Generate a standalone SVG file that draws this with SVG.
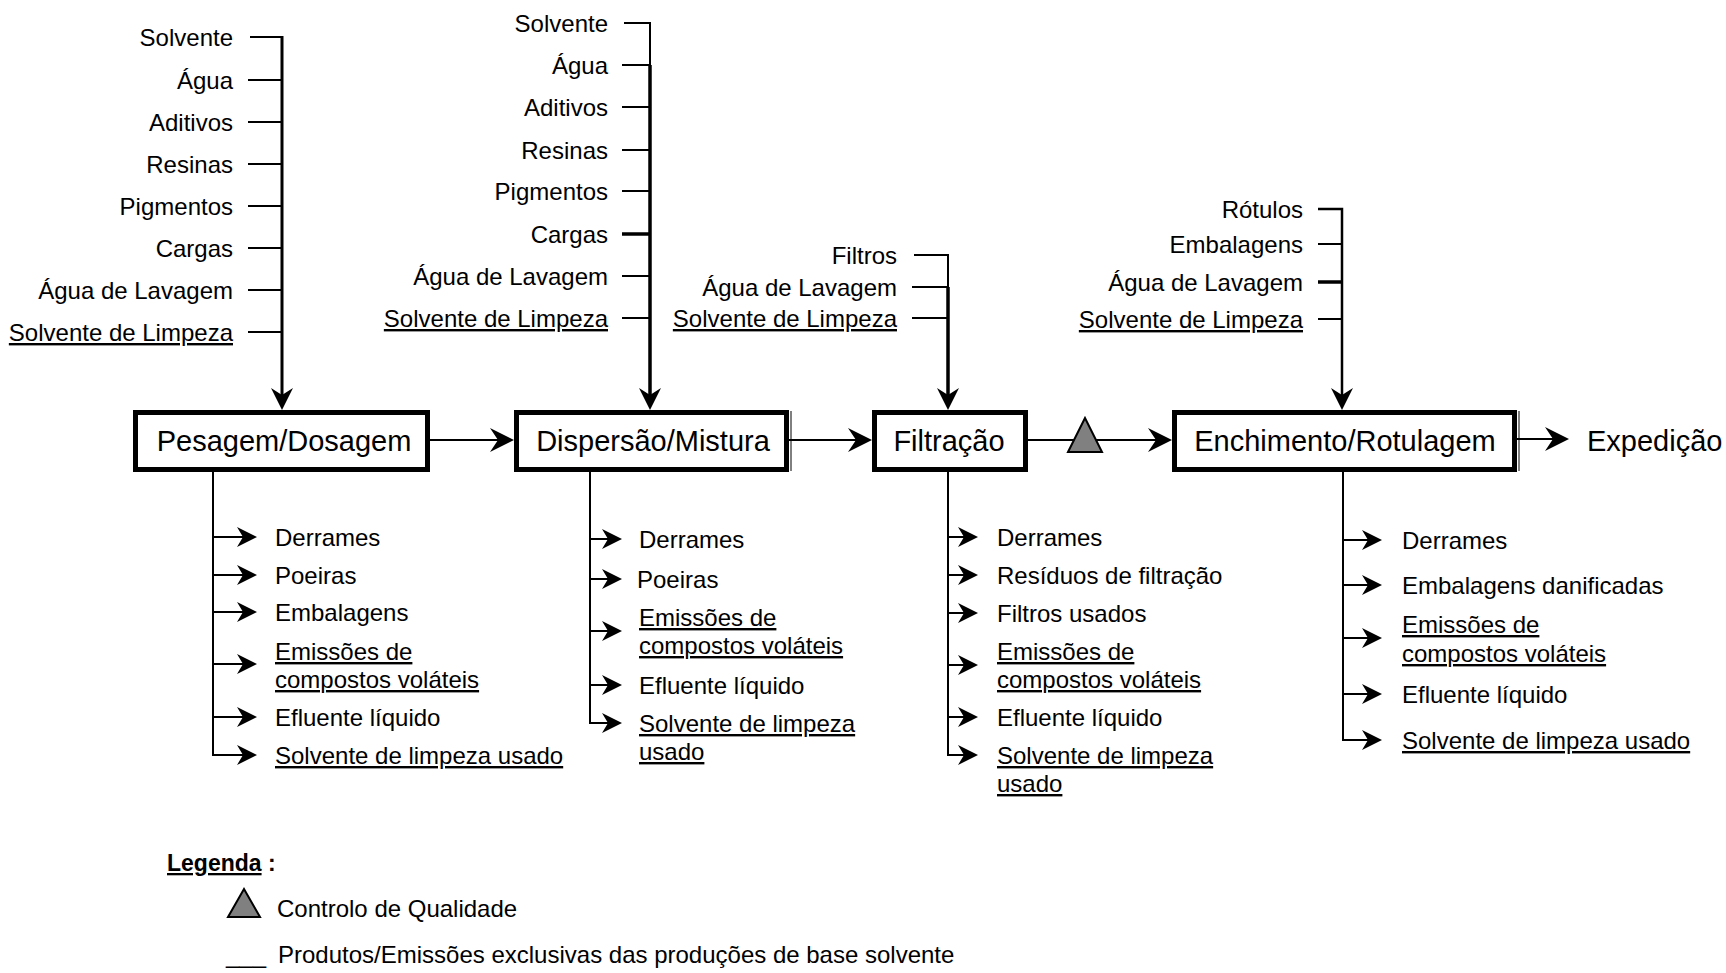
<svg xmlns="http://www.w3.org/2000/svg" width="1726" height="973" viewBox="0 0 1726 973">
<style>
text{font-family:"Liberation Sans",Arial,sans-serif;fill:#000}
.t{font-size:24px}
.e{text-anchor:end}
.u{text-decoration:underline}
.bt{font-size:29px;text-anchor:middle}
.box{fill:#fff;stroke:#000;stroke-width:5}
.ln{stroke:#000;stroke-width:2;fill:none}
.th{stroke-width:3.5}
.qc{fill:#808080;stroke:#000;stroke-width:2;stroke-linejoin:miter}
</style>
<defs>
<marker id="ah" markerUnits="userSpaceOnUse" viewBox="0 0 24 24" refX="12" refY="12" markerWidth="24" markerHeight="24" orient="auto"><path d="M0,0 L24,12 L0,24 L8,12 Z" fill="#000"/></marker>
<marker id="av" markerUnits="userSpaceOnUse" viewBox="0 0 22 22" refX="11" refY="11" markerWidth="22" markerHeight="22" orient="auto"><path d="M0,0 L22,11 L0,22 L7,11 Z" fill="#000"/></marker>
<marker id="as" markerUnits="userSpaceOnUse" viewBox="0 0 20 20" refX="10" refY="10" markerWidth="20" markerHeight="20" orient="auto"><path d="M0,0 L20,10 L0,20 L6,10 Z" fill="#000"/></marker>
</defs>

<g id="connectors">
  <path class="ln" style="stroke-width:3" d="M282,36 V399" marker-end="url(#av)"/>
  <path class="ln" d="M250,37 H282 M248,80 H282 M248,122 H282 M248,164 H282 M248,206 H282 M248,248 H282 M248,290 H282 M248,332 H282"/>
  <path class="ln" d="M650,22 V66"/>
  <path class="ln th" d="M650,65 V399" marker-end="url(#av)"/>
  <path class="ln" d="M624,23 H650 M622,65 H650 M622,107 H650 M622,150 H650 M622,191 H650 M622,276 H650 M622,318 H650"/>
  <path class="ln" style="stroke-width:3.5" d="M622,234 H650"/>
  <path class="ln" d="M914,255 H948 V288"/>
  <path class="ln th" d="M948,287 V399" marker-end="url(#av)"/>
  <path class="ln" d="M912,287 H948 M912,318 H948"/>
  <path class="ln" style="stroke-width:2.5" d="M1318,209 H1342 V399" marker-end="url(#av)"/>
  <path class="ln" d="M1318,244 H1342 M1318,319 H1342"/>
  <path class="ln" style="stroke-width:3.5" d="M1318,282 H1342"/>
  <path class="ln" d="M430,440 H502" marker-end="url(#ah)"/>
  <path class="ln" d="M789,440 H860" marker-end="url(#ah)"/>
  <path class="ln" d="M1028,440 H1160" marker-end="url(#ah)"/>
  <path class="ln" d="M1517,439 H1557" marker-end="url(#ah)"/>
  <path class="ln" d="M213,472 V755 H247" marker-end="url(#as)"/>
  <path class="ln" d="M213,537 H247" marker-end="url(#as)"/>
  <path class="ln" d="M213,575 H247" marker-end="url(#as)"/>
  <path class="ln" d="M213,612 H247" marker-end="url(#as)"/>
  <path class="ln" d="M213,664 H247" marker-end="url(#as)"/>
  <path class="ln" d="M213,717 H247" marker-end="url(#as)"/>
  <path class="ln" d="M590,472 V723 H612" marker-end="url(#as)"/>
  <path class="ln" d="M590,539 H612" marker-end="url(#as)"/>
  <path class="ln" d="M590,579 H612" marker-end="url(#as)"/>
  <path class="ln" d="M590,631 H612" marker-end="url(#as)"/>
  <path class="ln" d="M590,685 H612" marker-end="url(#as)"/>
  <path class="ln" d="M948,472 V755 H968" marker-end="url(#as)"/>
  <path class="ln" d="M948,537 H968" marker-end="url(#as)"/>
  <path class="ln" d="M948,575 H968" marker-end="url(#as)"/>
  <path class="ln" d="M948,613 H968" marker-end="url(#as)"/>
  <path class="ln" d="M948,665 H968" marker-end="url(#as)"/>
  <path class="ln" d="M948,717 H968" marker-end="url(#as)"/>
  <path class="ln" d="M1343,472 V740 H1372" marker-end="url(#as)"/>
  <path class="ln" d="M1343,540 H1372" marker-end="url(#as)"/>
  <path class="ln" d="M1343,585 H1372" marker-end="url(#as)"/>
  <path class="ln" d="M1343,638 H1372" marker-end="url(#as)"/>
  <path class="ln" d="M1343,694 H1372" marker-end="url(#as)"/>
</g>

<g id="box-pesagem">
  <rect class="box" x="135.5" y="412.5" width="292" height="57"/>
  <text class="bt" x="284" y="451">Pesagem/Dosagem</text>
</g>
<g id="box-dispersao">
  <rect class="box" x="516.5" y="412.5" width="270" height="57"/>
  <line x1="791" y1="411" x2="791" y2="471" stroke="#000" stroke-width="1"/>
  <text class="bt" x="653" y="451">Dispersão/Mistura</text>
</g>
<g id="box-filtracao">
  <rect class="box" x="874.5" y="412.5" width="151" height="57"/>
  <text class="bt" x="949" y="451">Filtração</text>
</g>
<g id="box-enchimento">
  <rect class="box" x="1174.5" y="412.5" width="340" height="57"/>
  <line x1="1519" y1="411" x2="1519" y2="471" stroke="#000" stroke-width="1"/>
  <text class="bt" x="1345" y="451">Enchimento/Rotulagem</text>
</g>
<g id="expedicao">
  <text style="font-size:29px" x="1587" y="451">Expedição</text>
</g>
<g id="qc">
  <polygon class="qc" points="1068,452 1085,418 1102,452"/>
</g>

<g id="inputs-pesagem">
  <text class="t e" x="233" y="46">Solvente</text>
  <text class="t e" x="233" y="89">Água</text>
  <text class="t e" x="233" y="131">Aditivos</text>
  <text class="t e" x="233" y="173">Resinas</text>
  <text class="t e" x="233" y="215">Pigmentos</text>
  <text class="t e" x="233" y="257">Cargas</text>
  <text class="t e" x="233" y="299">Água de Lavagem</text>
  <text class="t e u" x="233" y="341">Solvente de Limpeza</text>
</g>
<g id="inputs-dispersao">
  <text class="t e" x="608" y="32">Solvente</text>
  <text class="t e" x="608" y="74">Água</text>
  <text class="t e" x="608" y="116">Aditivos</text>
  <text class="t e" x="608" y="159">Resinas</text>
  <text class="t e" x="608" y="200">Pigmentos</text>
  <text class="t e" x="608" y="243">Cargas</text>
  <text class="t e" x="608" y="285">Água de Lavagem</text>
  <text class="t e u" x="608" y="327">Solvente de Limpeza</text>
</g>
<g id="inputs-filtracao">
  <text class="t e" x="897" y="264">Filtros</text>
  <text class="t e" x="897" y="296">Água de Lavagem</text>
  <text class="t e u" x="897" y="327">Solvente de Limpeza</text>
</g>
<g id="inputs-enchimento">
  <text class="t e" x="1303" y="218">Rótulos</text>
  <text class="t e" x="1303" y="253">Embalagens</text>
  <text class="t e" x="1303" y="291">Água de Lavagem</text>
  <text class="t e u" x="1303" y="328">Solvente de Limpeza</text>
</g>

<g id="outputs-pesagem">
  <text class="t" x="275" y="546">Derrames</text>
  <text class="t" x="275" y="584">Poeiras</text>
  <text class="t" x="275" y="621">Embalagens</text>
  <text class="t u" x="275" y="660">Emissões de</text>
  <text class="t u" x="275" y="688">compostos voláteis</text>
  <text class="t" x="275" y="726">Efluente líquido</text>
  <text class="t u" x="275" y="764">Solvente de limpeza usado</text>
</g>
<g id="outputs-dispersao">
  <text class="t" x="639" y="548">Derrames</text>
  <text class="t" x="637" y="588">Poeiras</text>
  <text class="t u" x="639" y="626">Emissões de</text>
  <text class="t u" x="639" y="654">compostos voláteis</text>
  <text class="t" x="639" y="694">Efluente líquido</text>
  <text class="t u" x="639" y="732">Solvente de limpeza</text>
  <text class="t u" x="639" y="760">usado</text>
</g>
<g id="outputs-filtracao">
  <text class="t" x="997" y="546">Derrames</text>
  <text class="t" x="997" y="584">Resíduos de filtração</text>
  <text class="t" x="997" y="622">Filtros usados</text>
  <text class="t u" x="997" y="660">Emissões de</text>
  <text class="t u" x="997" y="688">compostos voláteis</text>
  <text class="t" x="997" y="726">Efluente líquido</text>
  <text class="t u" x="997" y="764">Solvente de limpeza</text>
  <text class="t u" x="997" y="792">usado</text>
</g>
<g id="outputs-enchimento">
  <text class="t" x="1402" y="549">Derrames</text>
  <text class="t" x="1402" y="594">Embalagens danificadas</text>
  <text class="t u" x="1402" y="633">Emissões de</text>
  <text class="t u" x="1402" y="662">compostos voláteis</text>
  <text class="t" x="1402" y="703">Efluente líquido</text>
  <text class="t u" x="1402" y="749">Solvente de limpeza usado</text>
</g>

<g id="legend">
  <text x="167" y="871" style="font-size:23px;font-weight:bold"><tspan class="u">Legenda</tspan> :</text>
  <polygon class="qc" points="228,917 244,889 260,917"/>
  <text class="t" x="277" y="917">Controlo de Qualidade</text>
  <text class="t" x="226" y="963">___</text>
  <text class="t" x="278" y="963">Produtos/Emissões exclusivas das produções de base solvente</text>
</g>
</svg>
